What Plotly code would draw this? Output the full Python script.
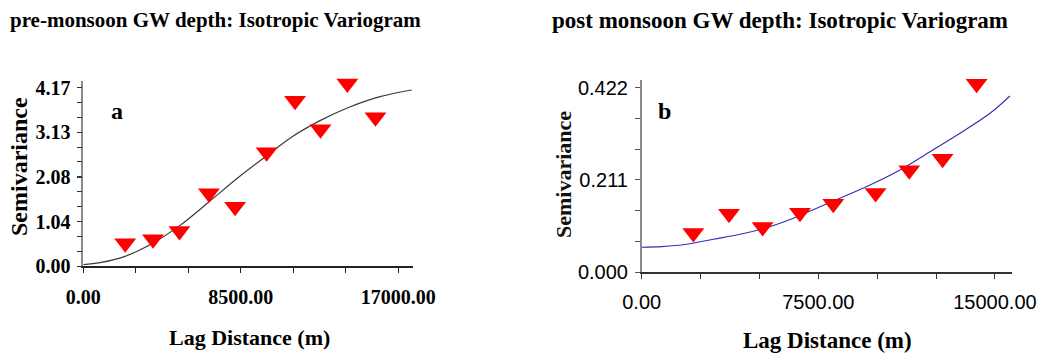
import plotly.graph_objects as go

# ---------------- data ----------------
# Panel a: pre-monsoon experimental semivariogram
LAG_A = [2262, 3763, 5191, 6780, 8191, 9894, 11429, 12802, 14250, 15769]
SEMI_A = [0.530, 0.624, 0.818, 1.699, 1.387, 2.658, 3.866, 3.196, 4.271, 3.476]
# fitted model curve
MODEL_LAG_A = [0, 901, 2250, 3691, 5219, 6838, 8278, 9897, 11333, 12774, 14214, 16012, 17722]
MODEL_A = [0.03, 0.077, 0.225, 0.52, 0.95, 1.52, 2.04, 2.58, 3.04, 3.40, 3.69, 3.96, 4.116]

# Panel b: post-monsoon experimental semivariogram
LAG_B = [2193, 3707, 5136, 6721, 8136, 9933, 11362, 12777, 14221]
SEMI_B = [0.0893, 0.1335, 0.1030, 0.1358, 0.1564, 0.1809, 0.2327, 0.2595, 0.4312]
MODEL_LAG_B = [0, 849, 1911, 3042, 4175, 5308, 6438, 7571, 8421, 9695, 10968, 12243, 13516, 14790, 15639]
MODEL_B = [0.0566, 0.0580, 0.0634, 0.0749, 0.0863, 0.1014, 0.1229, 0.1495, 0.1690,
           0.1992, 0.2336, 0.2755, 0.3176, 0.3634, 0.4030]

X_TICKS_A = [0, 8500, 17000]
Y_TICKS_A = [0.00, 1.04, 2.08, 3.13, 4.17]
X_TICKS_B = [0, 7500, 15000]
Y_TICKS_B = [0.000, 0.211, 0.422]

TITLE_A = "pre-monsoon GW depth: Isotropic Variogram"
TITLE_B = "post monsoon GW depth: Isotropic Variogram"
X_TITLE = "Lag Distance (m)"
Y_TITLE = "Semivariance"

# ---------------- figure ----------------
W, H = 1043, 356
SERIF = "Liberation Serif"
SANS = "Liberation Sans"

fig = go.Figure()

fig.add_trace(go.Scatter(x=MODEL_LAG_A, y=MODEL_A, mode="lines", line=dict(color="#3a3a3a", width=1.2, shape="spline"),
                         xaxis="x", yaxis="y", showlegend=False, hoverinfo="skip"))
fig.add_trace(go.Scatter(x=LAG_A, y=SEMI_A, mode="markers",
                         marker=dict(symbol="triangle-down", size=19, color="#ff0000", line=dict(width=0)),
                         xaxis="x", yaxis="y", showlegend=False, cliponaxis=False))

fig.add_trace(go.Scatter(x=MODEL_LAG_B, y=MODEL_B, mode="lines", line=dict(color="#2f2fb4", width=1.1, shape="spline"),
                         xaxis="x2", yaxis="y2", showlegend=False, hoverinfo="skip"))
fig.add_trace(go.Scatter(x=LAG_B, y=SEMI_B, mode="markers",
                         marker=dict(symbol="triangle-down", size=19, color="#ff0000", line=dict(width=0)),
                         xaxis="x2", yaxis="y2", showlegend=False, cliponaxis=False))

dom_xa = [83.3 / W, 413.3 / W]
dom_ya = [1 - 266 / H, 1 - 81 / H]
dom_xb = [641.7 / W, 1011.7 / W]
dom_yb = [1 - 272 / H, 1 - 80 / H]

rng_xa = [0, 17810]
rng_ya = [0, (266 - 81) / (266 - 87.7) * Y_TICKS_A[-1]]
rng_xb = [0, 15712]
rng_yb = [0, (272 - 80) / (272 - 87.7) * Y_TICKS_B[-1]]

serif_tick = dict(family=SERIF, size=20, color="black", weight="bold")
sans_tick = dict(family=SANS, size=20, color="black")


def axis(domain, rng, tickvals, fmt, minor_dt, font, anchor, linecolor, tickcolor, standoff, inside=False):
    d = dict(range=rng, anchor=anchor, showgrid=False, zeroline=False, automargin=False,
             showline=not inside, linecolor=linecolor, linewidth=1.5,
             tickmode="array", tickvals=tickvals, ticktext=[format(v, fmt) for v in tickvals],
             ticks="inside" if inside else "outside", ticklen=3 if inside else 5,
             tickcolor=tickcolor, tickwidth=1, tickfont=font,
             showticklabels=not inside, ticklabelstandoff=standoff,
             minor=dict(tickmode="linear", tick0=0, dtick=minor_dt,
                        ticks="inside" if inside else "outside",
                        ticklen=3 if inside else 5, tickcolor=tickcolor, tickwidth=1),
             fixedrange=True)
    if not inside:
        d["domain"] = domain
    return d


fig.update_layout(
    template="none",
    width=W, height=H,
    margin=dict(l=0, r=0, t=0, b=0, pad=0, autoexpand=False),
    paper_bgcolor="white", plot_bgcolor="rgba(0,0,0,0)",
    xaxis=axis(dom_xa, rng_xa, X_TICKS_A, ".2f", X_TICKS_A[-1] / 6, serif_tick, "y", "#222", "#222", 7),
    yaxis=axis(dom_ya, rng_ya, Y_TICKS_A, ".2f", Y_TICKS_A[-1] / 12, serif_tick, "x", "#8a8a8a", "#333", 2),
    xaxis2=axis(dom_xb, rng_xb, X_TICKS_B, ".2f", 2500, sans_tick, "y2", "#333", "#333", 6),
    yaxis2=axis(dom_yb, rng_yb, Y_TICKS_B, ".3f", Y_TICKS_B[-1] / 6, sans_tick, "x2", "#8a8a8a", "#555", 3),
)

# overlay axes to draw the inner half of the crossing ticks
fig.update_layout(
    xaxis3=dict(axis(dom_xa, rng_xa, X_TICKS_A, ".2f", X_TICKS_A[-1] / 6, serif_tick, "y", "#222", "#222", 0, True), overlaying="x"),
    yaxis3=dict(axis(dom_ya, rng_ya, Y_TICKS_A, ".2f", Y_TICKS_A[-1] / 12, serif_tick, "x", "#888", "#333", 0, True), overlaying="y"),
    xaxis4=dict(axis(dom_xb, rng_xb, X_TICKS_B, ".2f", 2500, sans_tick, "y2", "#333", "#333", 0, True), overlaying="x2"),
    yaxis4=dict(axis(dom_yb, rng_yb, Y_TICKS_B, ".3f", Y_TICKS_B[-1] / 6, sans_tick, "x2", "#888", "#555", 0, True), overlaying="y2"),
)

ann = []
def txt(x, y, s, size, family=SERIF, weight="bold", angle=0, color="black"):
    ann.append(dict(x=x / W, y=1 - y / H, xref="paper", yref="paper", text=s, showarrow=False,
                    xanchor="center", yanchor="middle", textangle=angle,
                    font=dict(family=family, size=size, color=color, weight=weight)))

txt(215, 20, TITLE_A, 21)
txt(780, 21, TITLE_B, 23)
txt(249, 337, X_TITLE, 22)
txt(827, 340, X_TITLE, 23)
txt(19, 167, Y_TITLE, 24, angle=-90)
txt(563, 175, Y_TITLE, 22, angle=-90, color="#111")
txt(117, 111, "a", 24)
txt(664, 111, "b", 24)
fig.update_layout(annotations=ann)

fig.write_html("out.html")
